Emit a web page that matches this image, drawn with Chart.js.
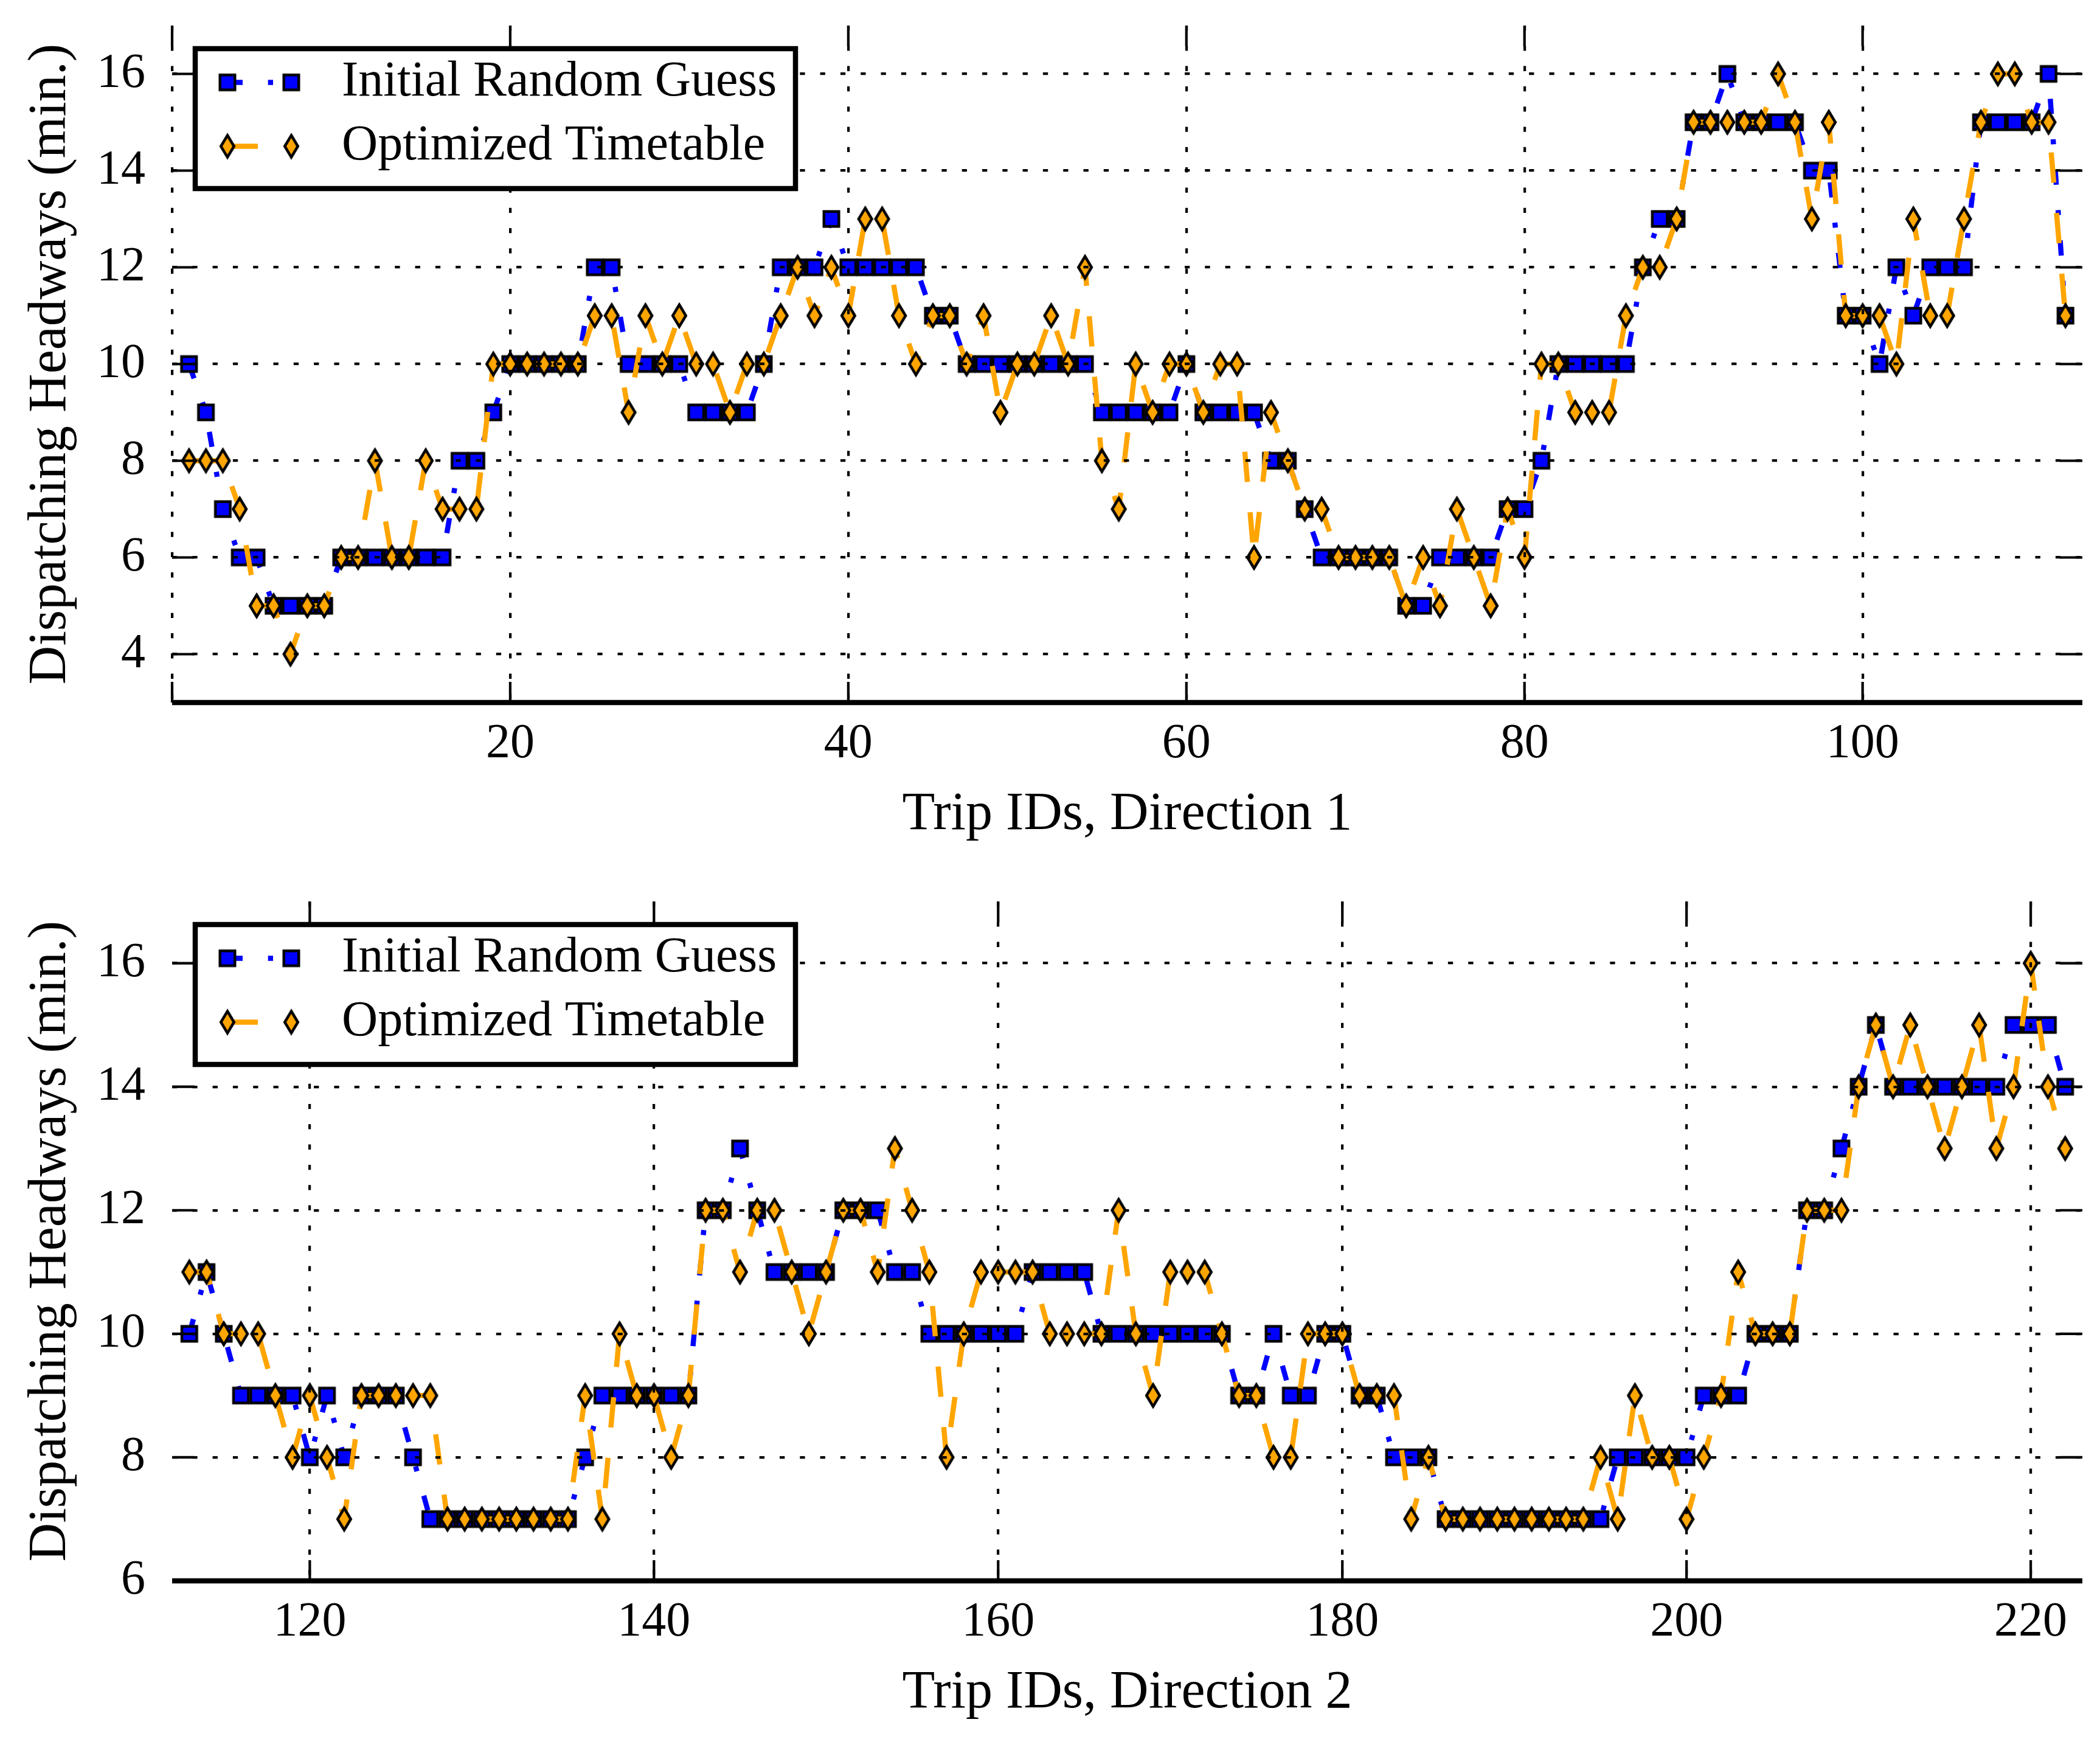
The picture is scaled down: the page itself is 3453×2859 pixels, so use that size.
<!DOCTYPE html>
<html>
<head>
<meta charset="utf-8">
<script src="https://cdn.jsdelivr.net/npm/chart.js@4.4.1/dist/chart.umd.min.js"></script>
<style>
  html, body { margin: 0; padding: 0; background: #fff; }
  #wrap { position: relative; width: 3453px; height: 2859px; background: #fff; }
  canvas { position: absolute; left: 0; }
</style>
</head>
<body>
<div id="wrap">
  <canvas id="dir1" width="3453" height="1430" style="top:0;width:3453px;height:1430px"></canvas>
  <canvas id="dir2" width="3453" height="1429" style="top:1430px;width:3453px;height:1429px"></canvas>
</div>
<script>
// headways (minutes) per trip
const firstTrip1 = 1;
const initial1 = [
  10, 9, 7, 6, 6, 5, 5, 5, 5, 6,
  6, 6, 6, 6, 6, 6, 8, 8, 9, 10,
  10, 10, 10, 10, 12, 12, 10, 10, 10, 10,
  9, 9, 9, 9, 10, 12, 12, 12, 13, 12,
  12, 12, 12, 12, 11, 11, 10, 10, 10, 10,
  10, 10, 10, 10, 9, 9, 9, 9, 9, 10,
  9, 9, 9, 9, 8, 8, 7, 6, 6, 6,
  6, 6, 5, 5, 6, 6, 6, 6, 7, 7,
  8, 10, 10, 10, 10, 10, 12, 13, 13, 15,
  15, 16, 15, 15, 15, 15, 14, 14, 11, 11,
  10, 12, 11, 12, 12, 12, 15, 15, 15, 15,
  16, 11
];
const optimized1 = [
  8, 8, 8, 7, 5, 5, 4, 5, 5, 6,
  6, 8, 6, 6, 8, 7, 7, 7, 10, 10,
  10, 10, 10, 10, 11, 11, 9, 11, 10, 11,
  10, 10, 9, 10, 10, 11, 12, 11, 12, 11,
  13, 13, 11, 10, 11, 11, 10, 11, 9, 10,
  10, 11, 10, 12, 8, 7, 10, 9, 10, 10,
  9, 10, 10, 6, 9, 8, 7, 7, 6, 6,
  6, 6, 5, 6, 5, 7, 6, 5, 7, 6,
  10, 10, 9, 9, 9, 11, 12, 12, 13, 15,
  15, 15, 15, 15, 16, 15, 13, 15, 11, 11,
  11, 10, 13, 11, 11, 13, 15, 16, 16, 15,
  15, 11
];

const firstTrip2 = 113;
const initial2 = [
  10, 11, 10, 9, 9, 9, 9, 8, 9, 8,
  9, 9, 9, 8, 7, 7, 7, 7, 7, 7,
  7, 7, 7, 8, 9, 9, 9, 9, 9, 9,
  12, 12, 13, 12, 11, 11, 11, 11, 12, 12,
  12, 11, 11, 10, 10, 10, 10, 10, 10, 11,
  11, 11, 11, 10, 10, 10, 10, 10, 10, 10,
  10, 9, 9, 10, 9, 9, 10, 10, 9, 9,
  8, 8, 8, 7, 7, 7, 7, 7, 7, 7,
  7, 7, 7, 8, 8, 8, 8, 8, 9, 9,
  9, 10, 10, 10, 12, 12, 13, 14, 15, 14,
  14, 14, 14, 14, 14, 14, 15, 15, 15, 14
];
const optimized2 = [
  11, 11, 10, 10, 10, 9, 8, 9, 8, 7,
  9, 9, 9, 9, 9, 7, 7, 7, 7, 7,
  7, 7, 7, 9, 7, 10, 9, 9, 8, 9,
  12, 12, 11, 12, 12, 11, 10, 11, 12, 12,
  11, 13, 12, 11, 8, 10, 11, 11, 11, 11,
  10, 10, 10, 10, 12, 10, 9, 11, 11, 11,
  10, 9, 9, 8, 8, 10, 10, 10, 9, 9,
  9, 7, 8, 7, 7, 7, 7, 7, 7, 7,
  7, 7, 8, 7, 9, 8, 8, 7, 8, 9,
  11, 10, 10, 10, 12, 12, 12, 14, 15, 14,
  15, 14, 13, 14, 15, 13, 14, 16, 14, 13
];

const seriesNames = ['Initial Random Guess', 'Optimized Timetable'];
const xTicks1 = [0, 20, 40, 60, 80, 100];
const xTickLabels1 = ['', '20', '40', '60', '80', '100'];
const yTicks1 = [4, 6, 8, 10, 12, 14, 16];
const xTicks2 = [120, 140, 160, 180, 200, 220];
const xTickLabels2 = ['120', '140', '160', '180', '200', '220'];
const yTicks2 = [6, 8, 10, 12, 14, 16];

const FONT = '"Liberation Serif", "DejaVu Serif", serif';
const BLUE = '#0000ff';
const ORANGE = '#ffa500';

// marker sprites: blue square and thin orange diamond, black edge
function squareMarker() {
  const c = document.createElement('canvas');
  c.width = 36; c.height = 36;
  const g = c.getContext('2d');
  g.fillStyle = BLUE;
  g.strokeStyle = '#000';
  g.lineWidth = 4.5;
  g.lineJoin = 'miter';
  g.beginPath();
  g.rect(18 - 12.25, 18 - 12.25, 24.5, 24.5);
  g.fill();
  g.stroke();
  return c;
}
function diamondMarker() {
  const c = document.createElement('canvas');
  c.width = 40; c.height = 56;
  const g = c.getContext('2d');
  g.fillStyle = ORANGE;
  g.strokeStyle = '#000';
  g.lineWidth = 4.5;
  g.lineJoin = 'miter';
  g.beginPath();
  g.moveTo(20, 10);
  g.lineTo(30.8, 28);
  g.lineTo(20, 46);
  g.lineTo(9.2, 28);
  g.closePath();
  g.fill();
  g.stroke();
  return c;
}
const sqImg = squareMarker();
const diaImg = diamondMarker();

// inward ticks on all four sides + bold bottom spine
const framePlugin = {
  id: 'frame',
  afterDraw(chart) {
    const { ctx, chartArea: a } = chart;
    const xs = chart.scales.x, ys = chart.scales.y;
    ctx.save();
    ctx.strokeStyle = '#000';
    ctx.lineWidth = 4.2;
    ctx.beginPath();
    xs.ticks.forEach(t => {
      const px = xs.getPixelForValue(t.value);
      ctx.moveTo(px, a.bottom); ctx.lineTo(px, a.bottom - 34);
      ctx.moveTo(px, a.top); ctx.lineTo(px, a.top + 34);
    });
    ys.ticks.forEach(t => {
      const py = ys.getPixelForValue(t.value);
      ctx.moveTo(a.left, py); ctx.lineTo(a.left + 37, py);
      ctx.moveTo(a.right, py); ctx.lineTo(a.right - 37, py);
    });
    ctx.stroke();
    ctx.lineWidth = 8.5;
    ctx.beginPath();
    ctx.moveTo(a.left, a.bottom);
    ctx.lineTo(a.right, a.bottom);
    ctx.stroke();
    ctx.restore();
  }
};

// matplotlib-like boxed legend: marker - line - marker, then label
const boxLegend = {
  id: 'boxLegend',
  afterDraw(chart) {
    const { ctx, chartArea: a } = chart;
    const bx = a.left + 38, by = a.top + 38, bw = 987, bh = 230;
    ctx.save();
    ctx.fillStyle = '#fff';
    ctx.fillRect(bx, by, bw, bh);
    ctx.strokeStyle = '#000';
    ctx.lineWidth = 8.5;
    ctx.lineJoin = 'miter';
    ctx.strokeRect(bx, by, bw, bh);
    chart.data.datasets.forEach((ds, i) => {
      const ry = by + 55.5 + i * 105;
      const x1 = bx + 53, x2 = bx + 158;
      ctx.strokeStyle = ds.borderColor;
      ctx.lineWidth = ds.borderWidth;
      ctx.lineCap = 'butt';
      ctx.setLineDash(ds.borderDash);
      ctx.beginPath();
      ctx.moveTo(x1, ry);
      ctx.lineTo(x2, ry);
      ctx.stroke();
      ctx.setLineDash([]);
      const img = ds.pointStyle;
      [x1, x2].forEach(px => ctx.drawImage(img, px - img.width / 2, ry - img.height / 2));
      ctx.fillStyle = '#000';
      ctx.font = '82px ' + FONT;
      ctx.textAlign = 'left';
      ctx.textBaseline = 'middle';
      ctx.fillText(ds.label, bx + 241, ry);
    });
    ctx.restore();
  }
};

function makeChart(id, cfg) {
  const pts = arr => arr.map((v, i) => ({ x: cfg.start + i, y: v }));
  const gridOpts = { color: '#000', lineWidth: 4.2, drawTicks: false, z: 1 };
  const borderOpts = { display: false, dash: [8.3, 25] };
  return new Chart(document.getElementById(id), {
    type: 'line',
    data: {
      datasets: [
        {
          label: seriesNames[0],
          data: pts(cfg.initial),
          borderColor: BLUE,
          borderWidth: 8.5,
          borderDash: [25, 41.7, 8.3, 41.7],
          borderJoinStyle: 'round',
          pointStyle: sqImg,
          pointRadius: 10,
          fill: false,
          order: 1
        },
        {
          label: seriesNames[1],
          data: pts(cfg.optimized),
          borderColor: ORANGE,
          borderWidth: 8.5,
          borderDash: [50, 50],
          borderJoinStyle: 'round',
          pointStyle: diaImg,
          pointRadius: 10,
          fill: false,
          order: 0
        }
      ]
    },
    options: {
      responsive: false,
      animation: false,
      devicePixelRatio: 1,
      events: [],
      layout: { padding: { top: cfg.padTop, right: 29, left: 0, bottom: 0 } },
      plugins: { legend: { display: false }, tooltip: { enabled: false } },
      scales: {
        x: {
          type: 'linear',
          min: cfg.xMin,
          max: cfg.xMax,
          afterBuildTicks: s => { s.ticks = cfg.xTicks.map(v => ({ value: v })); },
          afterFit: s => {
            s.height = cfg.xHeight;
            s.paddingLeft = 0; s.paddingRight = 0;
          },
          grid: gridOpts,
          border: borderOpts,
          ticks: {
            color: '#000',
            font: { family: FONT, size: 80, lineHeight: 1 },
            padding: 29,
            maxRotation: 0,
            autoSkip: false,
            callback: (v, i) => cfg.xLabels[i]
          },
          title: {
            display: true,
            text: cfg.xTitle,
            color: '#000',
            font: { family: FONT, size: 88, lineHeight: 1 },
            padding: { top: 0, bottom: cfg.titlePad }
          }
        },
        y: {
          type: 'linear',
          min: cfg.yMin,
          max: 17,
          afterBuildTicks: s => { s.ticks = cfg.yTicks.map(v => ({ value: v })); },
          afterFit: s => {
            s.width = 283;
            s.paddingTop = 0; s.paddingBottom = 0;
          },
          grid: gridOpts,
          border: borderOpts,
          ticks: {
            color: '#000',
            font: { family: FONT, size: 80, lineHeight: 1 },
            padding: 44,
            autoSkip: false
          },
          title: {
            display: true,
            text: 'Dispatching Headways (min.)',
            color: '#000',
            font: { family: FONT, size: 88, lineHeight: 1 },
            padding: { top: 40, bottom: 0 }
          }
        }
      }
    },
    plugins: [framePlugin, boxLegend]
  });
}

makeChart('dir1', {
  start: firstTrip1, initial: initial1, optimized: optimized1,
  xMin: 0, xMax: 113, xTicks: xTicks1, xLabels: xTickLabels1,
  yMin: 3, yTicks: yTicks1,
  padTop: 42, xHeight: 275, titlePad: 46,
  xTitle: 'Trip IDs, Direction 1'
});
makeChart('dir2', {
  start: firstTrip2, initial: initial2, optimized: optimized2,
  xMin: 112, xMax: 223, xTicks: xTicks2, xLabels: xTickLabels2,
  yMin: 6, yTicks: yTicks2,
  padTop: 52, xHeight: 260, titlePad: 31,
  xTitle: 'Trip IDs, Direction 2'
});
</script>
</body>
</html>
